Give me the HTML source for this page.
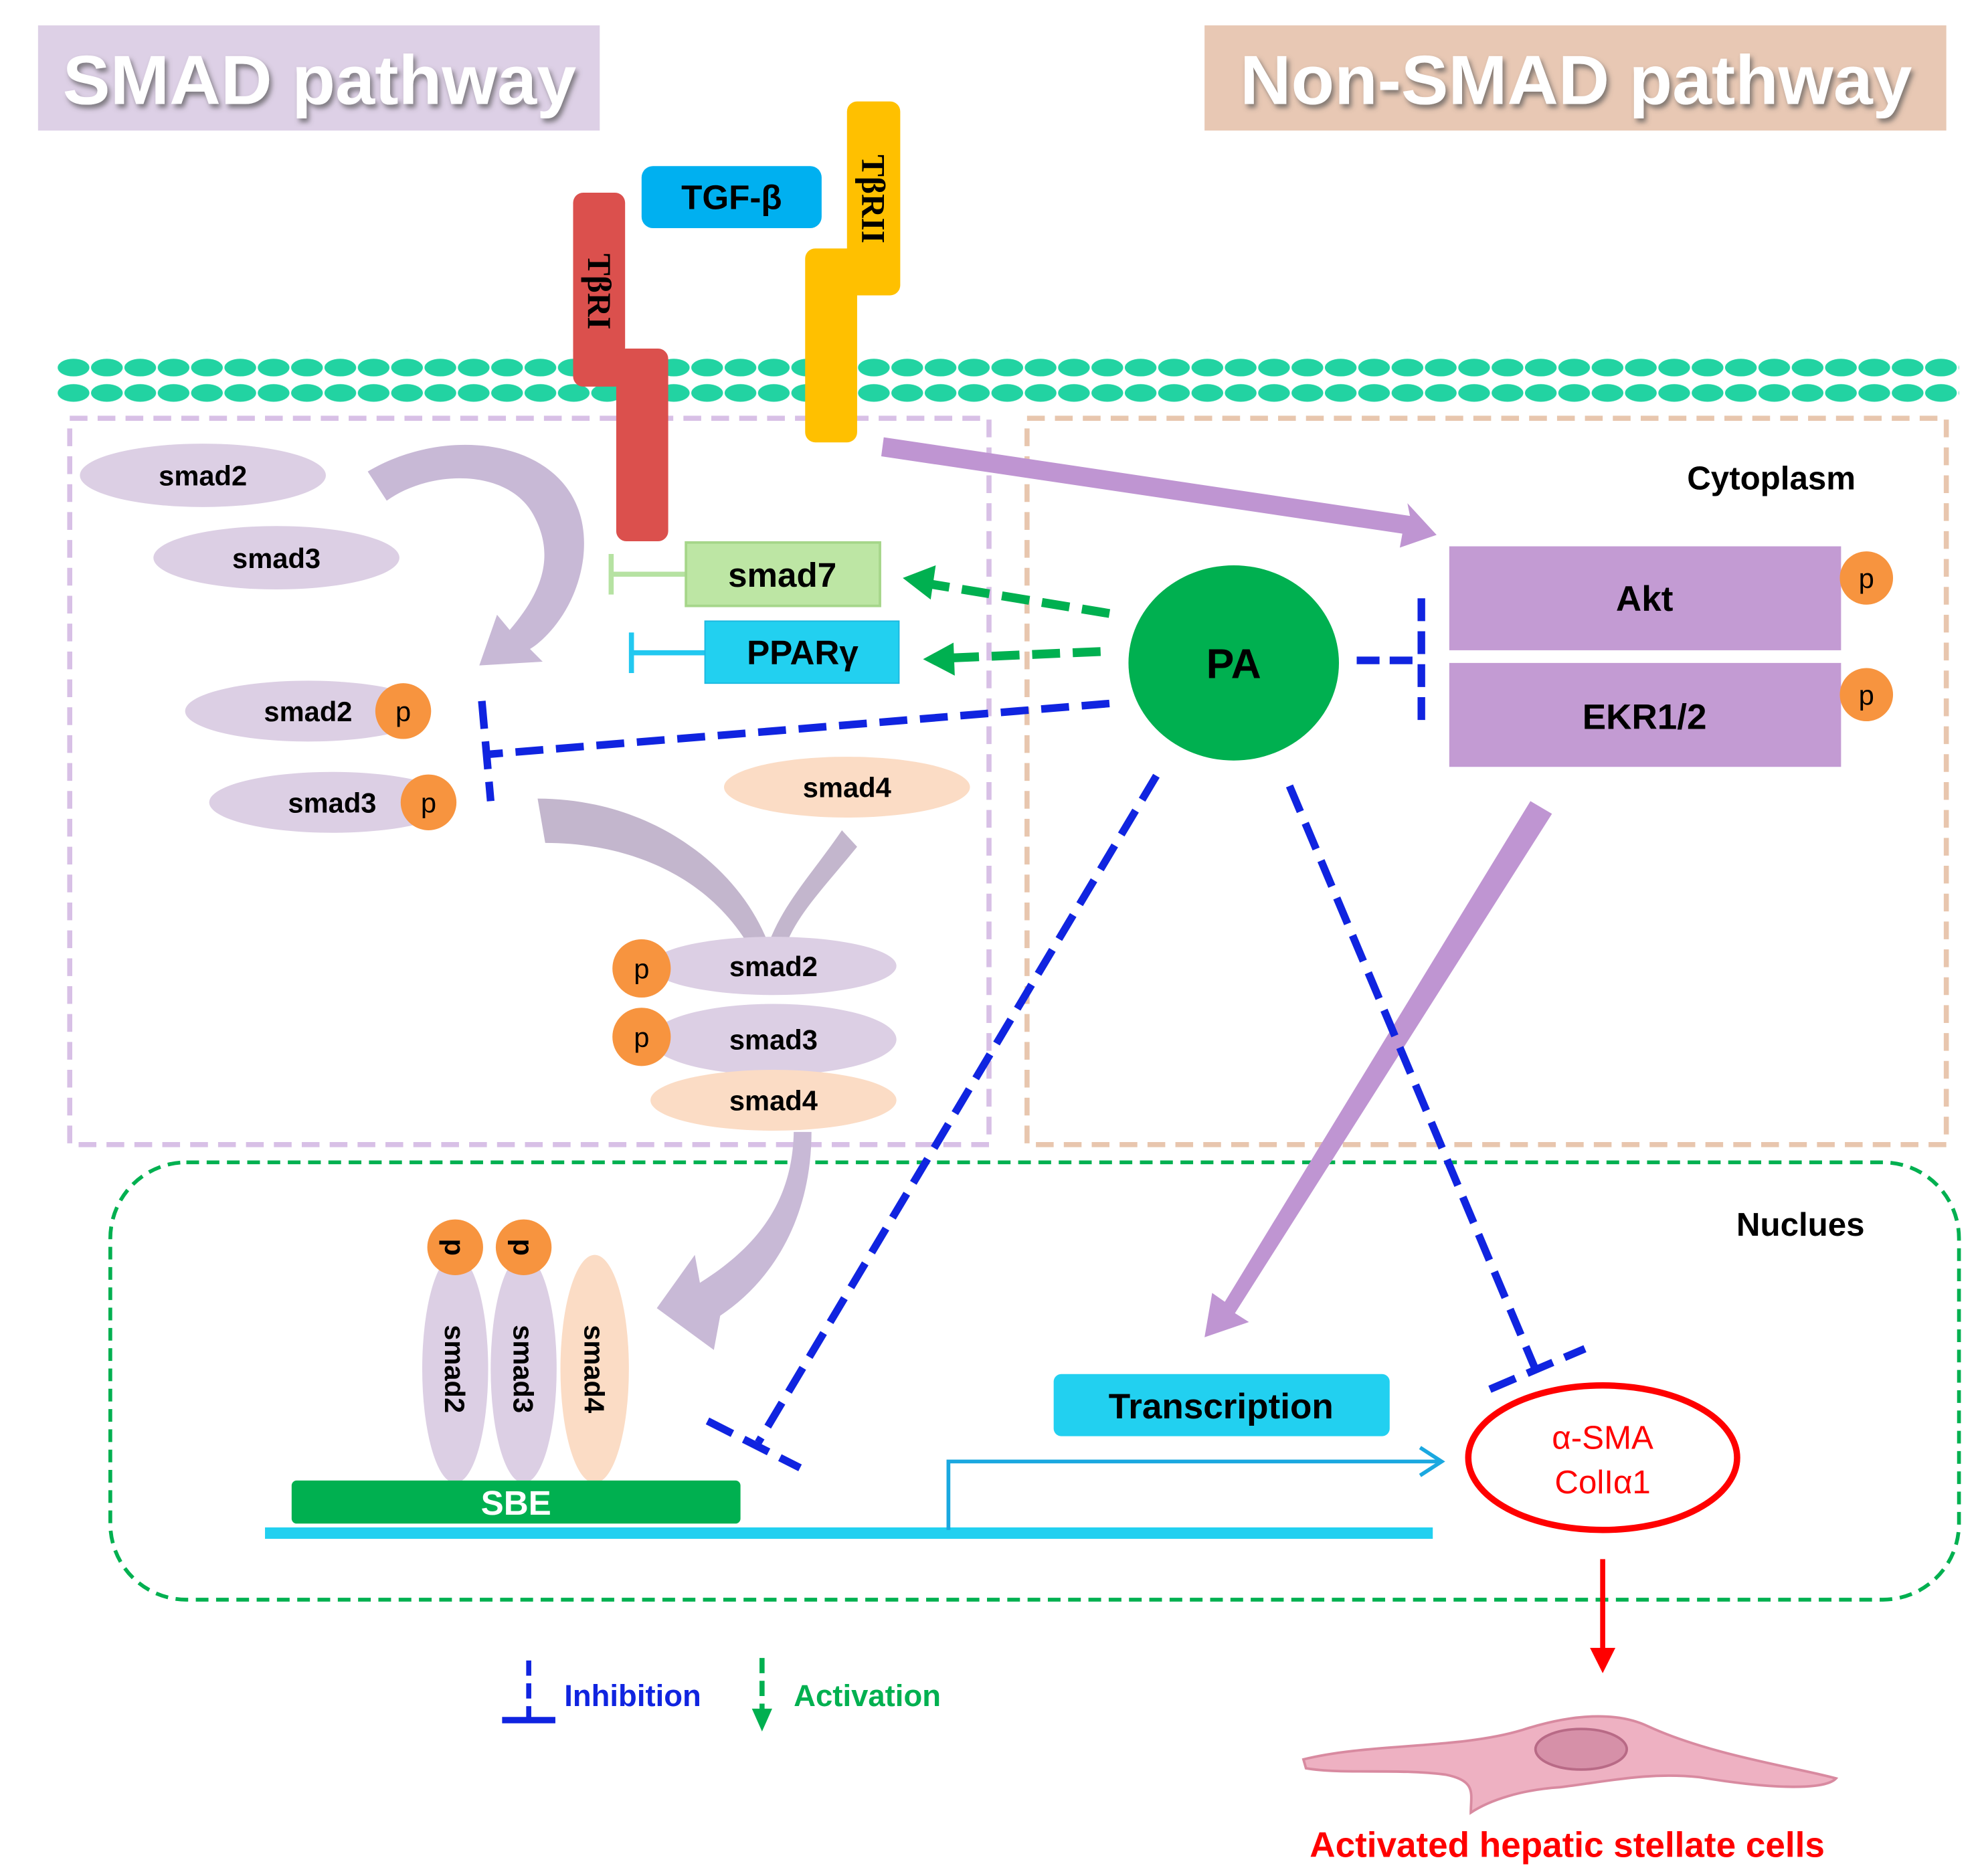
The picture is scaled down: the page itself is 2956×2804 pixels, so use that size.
<!DOCTYPE html>
<html><head><meta charset="utf-8"><style>html,body{margin:0;padding:0;background:#fff}svg{display:block}</style></head>
<body>
<svg xmlns="http://www.w3.org/2000/svg" width="2956" height="2804" viewBox="0 0 1560 1480" preserveAspectRatio="none" font-family="Liberation Sans, Arial, sans-serif">
<defs>
<filter id="sh"><feDropShadow dx="2" dy="3" stdDeviation="2" flood-color="#555" flood-opacity="0.7"/></filter>
<pattern id="mem" x="45" y="0" width="26.3" height="20" patternUnits="userSpaceOnUse"><ellipse cx="13" cy="10" rx="12.5" ry="7" fill="#22d3a2"/></pattern>
</defs>
<rect width="1560" height="1480" fill="#fff"/>
<rect x="30" y="20" width="443" height="83" fill="#ddd0e6"/>
<text x="252" y="82" font-size="55" font-weight="bold" fill="#fff" text-anchor="middle" filter="url(#sh)" textLength="405" lengthAdjust="spacingAndGlyphs">SMAD pathway</text>
<rect x="950" y="20" width="585" height="83" fill="#e8c8b4"/>
<text x="1243" y="82" font-size="55" font-weight="bold" fill="#fff" text-anchor="middle" filter="url(#sh)" textLength="530" lengthAdjust="spacingAndGlyphs">Non-SMAD pathway</text>
<rect x="45" y="277" width="1500" height="20" fill="url(#mem)"/>
<rect x="45" y="302" width="1500" height="20" fill="url(#mem)"/>
<rect x="55" y="330" width="725" height="573" fill="none" stroke="#d8c0e6" stroke-width="4" stroke-dasharray="14 8"/>
<rect x="810" y="330" width="725" height="573" fill="none" stroke="#e8c6ae" stroke-width="4" stroke-dasharray="14 8"/>
<rect x="87" y="917" width="1458" height="345" rx="60" fill="none" stroke="#00b050" stroke-width="3" stroke-dasharray="10 6"/>
<rect x="452" y="152" width="41" height="153" rx="8" fill="#db504d"/>
<rect x="486" y="275" width="41" height="152" rx="8" fill="#db504d"/>
<text transform="translate(464,230) rotate(90)" font-family="Liberation Serif, serif" font-size="26" font-weight="bold" text-anchor="middle">TβRI</text>
<rect x="668" y="80" width="42" height="153" rx="8" fill="#ffc000"/>
<rect x="635" y="196" width="41" height="153" rx="8" fill="#ffc000"/>
<text transform="translate(680,157) rotate(90)" font-family="Liberation Serif, serif" font-size="26" font-weight="bold" text-anchor="middle">TβRII</text>
<rect x="506" y="131" width="142" height="49" rx="9" fill="#00b0f0"/>
<text x="577" y="165" font-size="27" font-weight="bold" text-anchor="middle">TGF-β</text>
<ellipse cx="160" cy="375" rx="97" ry="25" fill="#dccfe4"/>
<text x="160" y="383" font-size="22" font-weight="bold" text-anchor="middle">smad2</text>
<ellipse cx="218" cy="440" rx="97" ry="25" fill="#dccfe4"/>
<text x="218" y="448" font-size="22" font-weight="bold" text-anchor="middle">smad3</text>
<path d="M290,372 C360,330 470,350 460,440 C455,480 430,505 418,512 L428,522 L378,525 L392,485 L402,497 C425,470 440,440 420,405 C400,370 340,370 305,395 Z" fill="#c8b9d6"/>
<line x1="541" y1="453" x2="481" y2="453" stroke="#b6e2a2" stroke-width="4"/>
<line x1="482" y1="437" x2="482" y2="469" stroke="#b6e2a2" stroke-width="4"/>
<rect x="541" y="428" width="153" height="50" fill="#bde6a4" stroke="#a6d68a" stroke-width="2"/>
<text x="617" y="463" font-size="27" font-weight="bold" text-anchor="middle">smad7</text>
<line x1="556" y1="515" x2="497" y2="515" stroke="#22c8f0" stroke-width="4"/>
<line x1="498" y1="499" x2="498" y2="531" stroke="#22c8f0" stroke-width="4"/>
<rect x="556" y="490" width="153" height="49" fill="#22d0f0" stroke="#1bb8e0" stroke-width="1"/>
<text x="633" y="524" font-size="27" font-weight="bold" text-anchor="middle">PPARγ</text>
<line x1="875" y1="484" x2="735" y2="461" stroke="#00b050" stroke-width="7" stroke-dasharray="22 10"/>
<path d="M712,456 L738,446 L734,473 Z" fill="#00b050"/>
<line x1="868" y1="514" x2="752" y2="519" stroke="#00b050" stroke-width="7" stroke-dasharray="22 10"/>
<path d="M728,520 L752,507 L753,533 Z" fill="#00b050"/>
<path d="M697,345 L1112,407 L1110,397 L1133,422 L1104,432 L1106,421 L695,360 Z" fill="#bf95d2"/>
<path d="M1207,632 L1224,642 L974,1036 L985,1043 L950,1055 L956,1020 L966,1027 Z" fill="#bf95d2"/>
<ellipse cx="973" cy="523" rx="83" ry="77" fill="#00b050"/>
<text x="973" y="535" font-size="33" font-weight="bold" text-anchor="middle">PA</text>
<rect x="1143" y="431" width="309" height="82" fill="#c39bd3"/>
<text x="1297" y="482" font-size="28" font-weight="bold" text-anchor="middle">Akt</text>
<rect x="1143" y="523" width="309" height="82" fill="#c39bd3"/>
<text x="1297" y="575" font-size="28" font-weight="bold" text-anchor="middle">EKR1/2</text>
<circle cx="1472" cy="456" r="21" fill="#f7943f"/><text x="1472" y="464" font-size="22" text-anchor="middle">p</text>
<circle cx="1472" cy="548" r="21" fill="#f7943f"/><text x="1472" y="556" font-size="22" text-anchor="middle">p</text>
<text x="1397" y="386" font-size="26" font-weight="bold" text-anchor="middle">Cytoplasm</text>
<text x="1420" y="975" font-size="26" font-weight="bold" text-anchor="middle">Nuclues</text>
<g stroke="#1024e0" stroke-width="6" fill="none">
<line x1="1070" y1="521" x2="1120" y2="521" stroke-dasharray="18 8"/>
<line x1="1121" y1="472" x2="1121" y2="570" stroke-dasharray="18 8"/>
<line x1="875" y1="555" x2="386" y2="595" stroke-dasharray="22 10"/>
<line x1="380" y1="553" x2="387" y2="632" stroke-dasharray="22 10"/>
<line x1="912" y1="612" x2="598" y2="1138" stroke-dasharray="22 10"/>
<line x1="558" y1="1121" x2="631" y2="1158" stroke-dasharray="22 10"/>
<line x1="1017" y1="620" x2="1210" y2="1078" stroke-dasharray="22 10"/>
<line x1="1175" y1="1096" x2="1250" y2="1064" stroke-dasharray="22 10"/>
</g>
<ellipse cx="243" cy="561" rx="97" ry="24" fill="#dccfe4"/>
<text x="243" y="569" font-size="22" font-weight="bold" text-anchor="middle">smad2</text>
<circle cx="318" cy="561" r="22" fill="#f7943f"/><text x="318" y="569" font-size="22" text-anchor="middle">p</text>
<ellipse cx="262" cy="633" rx="97" ry="24" fill="#dccfe4"/>
<text x="262" y="641" font-size="22" font-weight="bold" text-anchor="middle">smad3</text>
<circle cx="338" cy="633" r="22" fill="#f7943f"/><text x="338" y="641" font-size="22" text-anchor="middle">p</text>
<ellipse cx="668" cy="621" rx="97" ry="24" fill="#fbdcc5"/>
<text x="668" y="629" font-size="22" font-weight="bold" text-anchor="middle">smad4</text>
<path d="M424,630 C510,630 580,680 605,742 L588,742 C555,690 495,665 430,665 Z" fill="#c3b6cd"/>
<path d="M664,655 L676,668 C650,700 630,720 620,745 L607,742 C620,710 640,690 664,655 Z" fill="#c3b6cd"/>
<ellipse cx="610" cy="762" rx="97" ry="23" fill="#dccfe4"/>
<text x="610" y="770" font-size="22" font-weight="bold" text-anchor="middle">smad2</text>
<circle cx="506" cy="764" r="23" fill="#f7943f"/><text x="506" y="772" font-size="22" text-anchor="middle">p</text>
<ellipse cx="610" cy="820" rx="97" ry="28" fill="#dccfe4"/>
<ellipse cx="610" cy="868" rx="97" ry="24" fill="#fbdcc5"/>
<text x="610" y="828" font-size="22" font-weight="bold" text-anchor="middle">smad3</text>
<text x="610" y="876" font-size="22" font-weight="bold" text-anchor="middle">smad4</text>
<circle cx="506" cy="818" r="23" fill="#f7943f"/><text x="506" y="826" font-size="22" text-anchor="middle">p</text>
<path d="M626,893 L640,893 C640,960 610,1010 568,1038 L563,1065 L518,1032 L548,990 L552,1012 C595,985 625,950 626,893 Z" fill="#c8b9d6"/>
<ellipse cx="359" cy="1080" rx="26" ry="90" fill="#dccfe4"/>
<ellipse cx="413" cy="1080" rx="26" ry="90" fill="#dccfe4"/>
<ellipse cx="469" cy="1080" rx="27" ry="90" fill="#fbdcc5"/>
<text transform="translate(351,1080) rotate(90)" font-size="22" font-weight="bold" text-anchor="middle">smad2</text>
<text transform="translate(405,1080) rotate(90)" font-size="22" font-weight="bold" text-anchor="middle">smad3</text>
<text transform="translate(461,1080) rotate(90)" font-size="22" font-weight="bold" text-anchor="middle">smad4</text>
<circle cx="359" cy="984" r="22" fill="#f7943f"/><text transform="translate(351,984) rotate(90)" font-size="22" font-weight="bold" text-anchor="middle">p</text>
<circle cx="413" cy="984" r="22" fill="#f7943f"/><text transform="translate(405,984) rotate(90)" font-size="22" font-weight="bold" text-anchor="middle">p</text>
<rect x="230" y="1168" width="354" height="34" rx="4" fill="#00b050"/>
<text x="407" y="1195" font-size="27" font-weight="bold" fill="#fff" text-anchor="middle">SBE</text>
<rect x="209" y="1205" width="921" height="9" fill="#22d0f0"/>
<path d="M748,1207 L748,1153 L1136,1153" fill="none" stroke="#1aa8e0" stroke-width="3"/>
<path d="M1120,1142 L1137,1153 L1120,1164" fill="none" stroke="#1aa8e0" stroke-width="3"/>
<rect x="831" y="1084" width="265" height="49" rx="6" fill="#22d0f0"/>
<text x="963" y="1119" font-size="28" font-weight="bold" text-anchor="middle">Transcription</text>
<ellipse cx="1264" cy="1150" rx="106" ry="57" fill="none" stroke="#f00" stroke-width="5"/>
<text x="1264" y="1143" font-size="26" fill="#f00" text-anchor="middle">α-SMA</text>
<text x="1264" y="1178" font-size="26" fill="#f00" text-anchor="middle">ColIα1</text>
<line x1="1264" y1="1230" x2="1264" y2="1305" stroke="#f00" stroke-width="4"/>
<path d="M1254,1300 L1274,1300 L1264,1320 Z" fill="#f00"/>
<path d="M1028,1388 C1080,1375 1150,1380 1200,1365 C1240,1352 1275,1350 1300,1362 C1350,1385 1420,1395 1448,1403 C1440,1412 1400,1412 1340,1402 C1300,1398 1270,1405 1230,1410 C1200,1412 1175,1420 1160,1430 C1160,1415 1165,1405 1140,1400 C1100,1395 1060,1400 1030,1395 Z" fill="#eeb1c2" stroke="#d88aa0" stroke-width="2"/>
<ellipse cx="1247" cy="1380" rx="36" ry="16" fill="#d690a8" stroke="#b86a86" stroke-width="2"/>
<text x="1236" y="1465" font-size="28" font-weight="bold" fill="#f00" text-anchor="middle">Activated hepatic stellate cells</text>
<line x1="417" y1="1310" x2="417" y2="1356" stroke="#1024e0" stroke-width="4" stroke-dasharray="12 6"/>
<line x1="396" y1="1357" x2="438" y2="1357" stroke="#1024e0" stroke-width="5"/>
<text x="445" y="1346" font-size="24" font-weight="bold" fill="#1024e0">Inhibition</text>
<line x1="601" y1="1308" x2="601" y2="1350" stroke="#00b050" stroke-width="4" stroke-dasharray="12 6"/>
<path d="M593,1348 L609,1348 L601,1366 Z" fill="#00b050"/>
<text x="626" y="1346" font-size="24" font-weight="bold" fill="#00b050">Activation</text>
</svg>
</body></html>
